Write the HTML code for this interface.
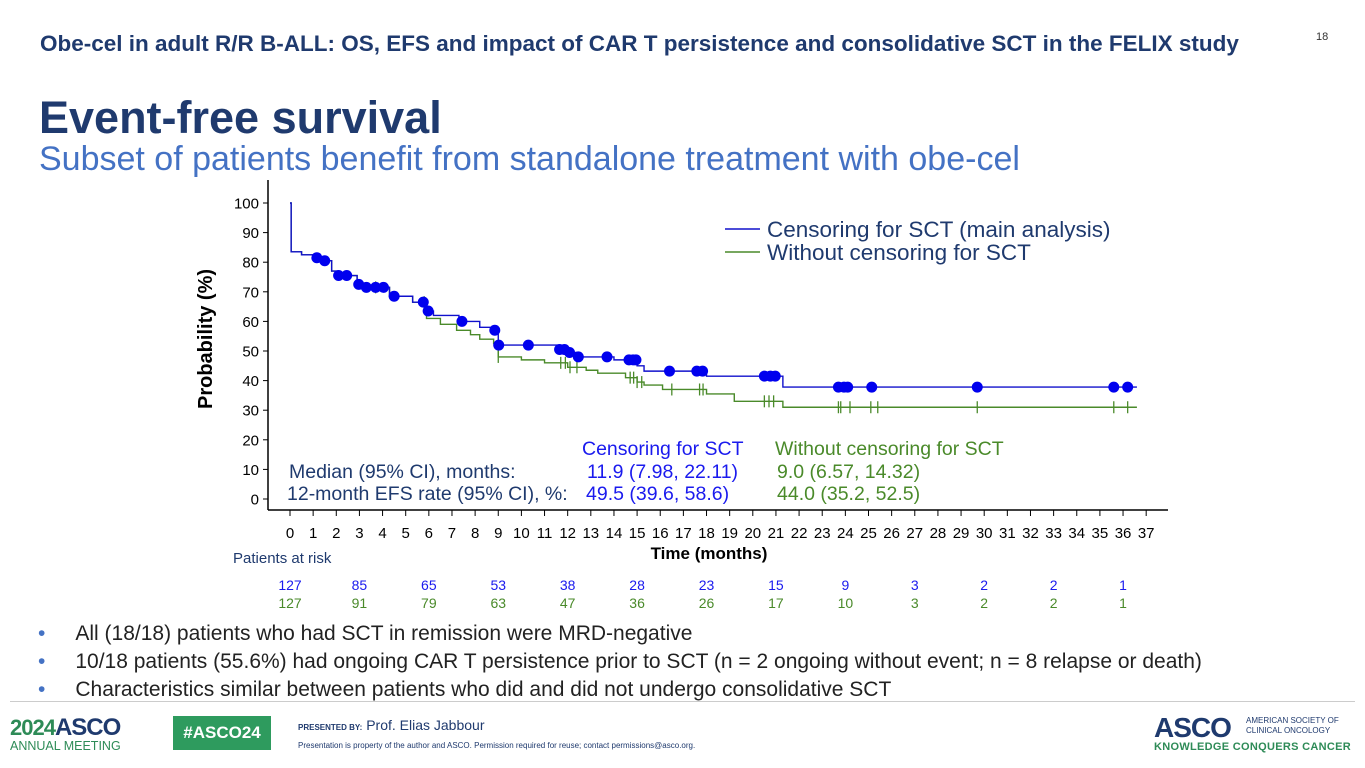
<!DOCTYPE html>
<html><head><meta charset="utf-8">
<style>
body{margin:0;width:1365px;height:768px;background:#fff;font-family:"Liberation Sans",sans-serif;overflow:hidden;position:relative}
.a{position:absolute;white-space:nowrap}
</style></head><body>
<div class="a" style="left:40px;top:31px;font-size:22.5px;font-weight:bold;color:#1f3a6e">Obe-cel in adult R/R B-ALL: OS, EFS and impact of CAR T persistence and consolidative SCT in the FELIX study</div>
<div class="a" style="left:1316px;top:31px;font-size:11px;color:#333">18</div>
<div class="a" style="left:39px;top:92px;font-size:45px;font-weight:bold;color:#1f3a6e">Event-free survival</div>
<div class="a" style="left:39px;top:140px;font-size:34px;color:#4472c4">Subset of patients benefit from standalone treatment with obe-cel</div>

<svg id="chart" class="a" style="left:0;top:0" width="1365" height="620"></svg>

<div class="a" style="left:38px;top:620px;font-size:21px;color:#222;line-height:28px">
<div><span style="color:#4472c4;margin-right:30px">•</span>All (18/18) patients who had SCT in remission were MRD-negative</div>
<div><span style="color:#4472c4;margin-right:30px">•</span>10/18 patients (55.6%) had ongoing CAR T persistence prior to SCT (n = 2 ongoing without event; n = 8 relapse or death)</div>
<div><span style="color:#4472c4;margin-right:30px">•</span>Characteristics similar between patients who did and did not undergo consolidative SCT</div>
</div>
<div class="a" style="left:10px;top:701px;width:1345px;height:1px;background:#ccc"></div>
<div class="a" style="left:10px;top:714px">
 <span style="font-size:22px;font-weight:bold;color:#2e8b57;letter-spacing:-1px">2024</span><span style="font-size:24px;font-weight:bold;color:#1f3a6e;letter-spacing:-1px">ASCO</span>
 <div style="font-size:12.5px;color:#2e8b57;margin-top:-3px">ANNUAL MEETING</div></div>
<div class="a" style="left:173px;top:716px;width:98px;height:34px;background:#2e9b5e;color:#fff;font-weight:bold;font-size:17px;text-align:center;line-height:34px">#ASCO24</div>
<div class="a" style="left:298px;top:717px;font-size:14px;color:#1f3a6e"><span style="font-size:8px;font-weight:bold">PRESENTED BY:</span> Prof. Elias Jabbour</div>
<div class="a" style="left:298px;top:741px;font-size:8px;color:#1f3a6e">Presentation is property of the author and ASCO. Permission required for reuse; contact permissions@asco.org.</div>
<div class="a" style="left:1154px;top:712px"><span style="font-size:28px;font-weight:bold;color:#1f3a6e;letter-spacing:-1px">ASCO</span><span style="position:absolute;left:92px;top:4px;font-size:8px;color:#1f3a6e;line-height:10px">AMERICAN SOCIETY OF<br>CLINICAL ONCOLOGY</span>
<div style="font-size:11px;color:#2e8b57;font-weight:bold;margin-top:-3px;letter-spacing:.3px">KNOWLEDGE CONQUERS CANCER</div></div>

<script>
const xTicks=[0,1,2,3,4,5,6,7,8,9,10,11,12,13,14,15,16,17,18,19,20,21,22,23,24,25,26,27,28,29,30,31,32,33,34,35,36,37];
const yTicks=[0,10,20,30,40,50,60,70,80,90,100];
const blueTimes=[0,0.05,0.5,1.0,1.4,1.8,2.1,2.9,3.1,4.3,5.3,5.9,6.2,7.3,8.2,8.8,9.0,11.6,12.0,12.4,14.0,15.0,15.3,18.0,21.3];
const blueSurv=[100,83.5,82.5,81.5,80.5,77,75.5,72.5,71.5,68.5,66.5,63.5,62,60,58,57,52,50.5,49.5,48,47,45,43.2,41.5,37.8];
const blueCens=[1.16,1.5,2.1,2.45,2.97,3.3,3.7,4.04,4.5,5.76,5.97,7.43,8.85,9.02,10.3,11.65,11.86,12.08,12.46,13.7,14.65,14.83,14.95,16.4,17.58,17.83,20.5,20.76,20.97,23.7,23.94,24.1,25.14,29.7,35.6,36.2];
const greenTimes=[0,0.05,0.5,1.0,1.4,1.8,2.1,2.9,3.1,4.3,5.3,5.9,6.5,7.2,7.8,8.2,8.8,9.0,10.0,11.0,12.0,12.8,13.3,14.5,15.0,15.3,16.1,18.0,19.2,21.3];
const greenSurv=[100,83.5,82.5,81.5,80.5,77,75.5,72.5,71.5,68.5,66.5,61,59,57,55.5,54,52.5,48,47,46,44.5,43.5,42.5,41,39.5,38.5,37,35.5,33,31];
const greenCens=[3.7,5.8,9.0,11.7,11.9,12.1,12.4,14.7,14.85,15.0,15.2,16.5,17.7,17.85,20.5,20.7,20.9,23.7,23.8,24.2,25.1,25.4,29.7,35.6,36.2];
const riskTimes=[0,3,6,9,12,15,18,21,24,27,30,33,36];
const riskBlue=[127,85,65,53,38,28,23,15,9,3,2,2,1];
const riskGreen=[127,91,79,63,47,36,26,17,10,3,2,2,1];
const tEnd=36.6;

const svg=document.getElementById('chart');const NS='http://www.w3.org/2000/svg';
const X=t=>290+t*23.14, Y=v=>499-v*2.96;
function mk(tag,at,txt){const e=document.createElementNS(NS,tag);for(const k in at)e.setAttribute(k,at[k]);if(txt!==undefined)e.textContent=txt;svg.appendChild(e);return e;}
let e;
e=mk('line',{x1:268,y1:180,x2:268,y2:510,stroke:'#000','stroke-width':1.5});


e=mk('line',{x1:268,y1:510,x2:1168,y2:510,stroke:'#000','stroke-width':1.5});


yTicks.forEach(v=>{
 e=mk('line',{x1:263,y1:Y(v),x2:268,y2:Y(v),stroke:'#000'});
 
 
 e=mk('text',{x:259,y:Y(v)+5.5,'text-anchor':'end','font-size':15,fill:'#000'},String(v));
 
 
});
xTicks.forEach(t=>{
 e=mk('line',{x1:X(t),y1:510,x2:X(t),y2:516,stroke:'#000'});
 
 
 e=mk('text',{x:X(t),y:538,'text-anchor':'middle','font-size':15,fill:'#000'},String(t));
 
 
});
e=mk('text',{x:0,y:0,transform:'translate(212,339) rotate(-90)','text-anchor':'middle','font-size':20,'font-weight':'bold',fill:'#000'},'Probability (%)');


e=mk('text',{x:709,y:559,'text-anchor':'middle','font-size':17,'font-weight':'bold',fill:'#000'},'Time (months)');


function survAt(ts,ss,t){let v=ss[0];for(let i=0;i<ts.length;i++)if(ts[i]<=t)v=ss[i];return v;}
function stepPath(ts,ss){let d='M'+X(ts[0])+','+Y(ss[0]);for(let i=1;i<ts.length;i++){d+='H'+X(ts[i])+'V'+Y(ss[i]);}d+='H'+X(tEnd);return d;}
e=mk('path',{d:stepPath(greenTimes,greenSurv),fill:'none',stroke:'#4a8a2a','stroke-width':1.4});


greenCens.forEach(t=>{const y=Y(survAt(greenTimes,greenSurv,t));
 e=mk('line',{x1:X(t),y1:y-6,x2:X(t),y2:y+6,stroke:'#4a8a2a','stroke-width':1.3});
 
 });
e=mk('path',{d:stepPath(blueTimes,blueSurv),fill:'none',stroke:'#1010cc','stroke-width':1.4});


blueCens.forEach(t=>{
 e=mk('circle',{cx:X(t),cy:Y(survAt(blueTimes,blueSurv,t)),r:5.5,fill:'#0000ee'});
 
 });
// legend
e=mk('line',{x1:725,y1:229,x2:760,y2:229,stroke:'#1010cc','stroke-width':1.5});


e=mk('text',{x:767,y:237,'font-size':22.5,fill:'#1f3a6e'},'Censoring for SCT (main analysis)');


e=mk('line',{x1:725,y1:252,x2:760,y2:252,stroke:'#4a8a2a','stroke-width':1.5});


e=mk('text',{x:767,y:260,'font-size':22.5,fill:'#1f3a6e'},'Without censoring for SCT');


// stats table
const st=[[582,455,'Censoring for SCT','#1a1aee'],[775,455,'Without censoring for SCT','#4a8a2a'],[289,478,'Median (95% CI), months:','#1f3a6e'],[287,500,'12-month EFS rate (95% CI), %:','#1f3a6e'],[587,478,'11.9 (7.98, 22.11)','#1a1aee'],[586,500,'49.5 (39.6, 58.6)','#1a1aee'],[777,478,'9.0 (6.57, 14.32)','#4a8a2a'],[777,500,'44.0 (35.2, 52.5)','#4a8a2a']];
st.forEach(s=>{e=mk('text',{x:s[0],y:s[1],'font-size':19.5,fill:s[3]},s[2]);
 
 });
e=mk('text',{x:233,y:563,'font-size':15,fill:'#1f3a6e'},'Patients at risk');


riskTimes.forEach((t,i)=>{
 e=mk('text',{x:X(t),y:590,'text-anchor':'middle','font-size':14,fill:'#1a1aee'},String(riskBlue[i]));
 
 
 e=mk('text',{x:X(t),y:608,'text-anchor':'middle','font-size':14,fill:'#4a8a2a'},String(riskGreen[i]));
 
 
});
</script>
</body></html>
